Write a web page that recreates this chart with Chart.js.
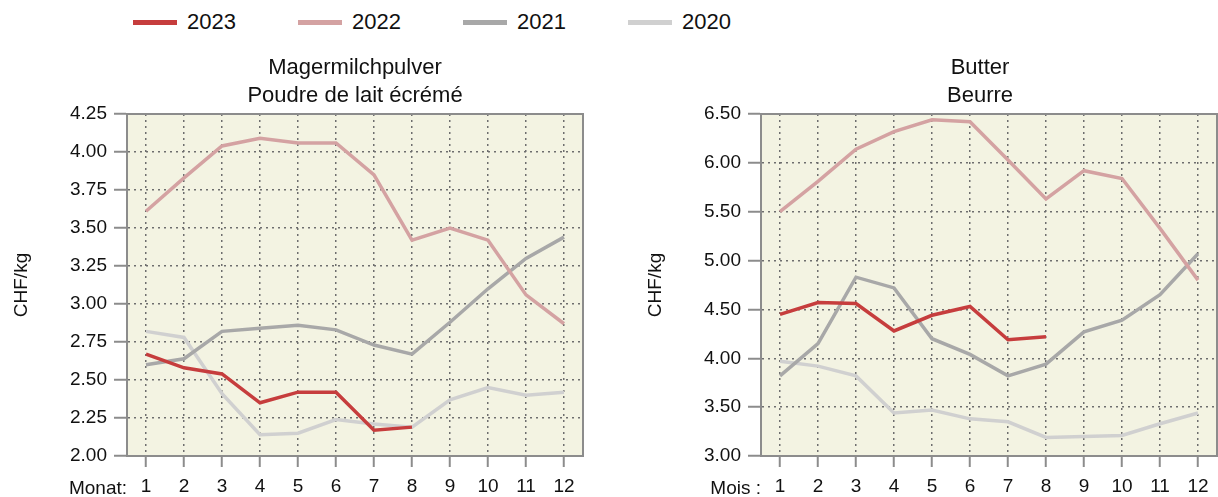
<!DOCTYPE html>
<html>
<head>
<meta charset="utf-8">
<script src="https://cdn.jsdelivr.net/npm/chart.js@4.4.0/dist/chart.umd.min.js"></script>
<style>
  body { margin: 0; width: 1218px; height: 497px; overflow: hidden; background: #fff; position: relative;
         font-family: 'Liberation Sans', Arial, sans-serif; color: #111; }
  .box { position: absolute; top: 0; width: 600px; height: 497px; }
  #legend { position: absolute; top: 0; left: 0; height: 45px; width: 800px; }
  .item { position: absolute; top: 0; height: 45px; }
  .swatch { position: absolute; top: 20px; left: 0; width: 44px; height: 5px; }
  .lbl { position: absolute; top: 7px; left: 54px; font-size: 22px; line-height: 30px; white-space: nowrap; }
</style>
</head>
<body>
<div id="legend"></div>
<div class="box" style="left:0px"><canvas id="chartMMP" width="600" height="497"></canvas></div>
<div class="box" style="left:634px"><canvas id="chartButter" width="600" height="497"></canvas></div>
<script>
// months 1..12
var months = ['1','2','3','4','5','6','7','8','9','10','11','12'];
var years = ['2023','2022','2021','2020'];
var yearColors = ['#c63d3d', '#d4a2a2', '#a8a8a8', '#d0d0d0'];

// Magermilchpulver / Poudre de lait écrémé, CHF/kg
var mmp2023 = [2.67, 2.58, 2.54, 2.35, 2.42, 2.42, 2.17, 2.19];
var mmp2022 = [3.61, 3.83, 4.04, 4.09, 4.06, 4.06, 3.85, 3.42, 3.50, 3.42, 3.06, 2.87];
var mmp2021 = [2.60, 2.64, 2.82, 2.84, 2.86, 2.83, 2.73, 2.67, 2.88, 3.10, 3.30, 3.44];
var mmp2020 = [2.82, 2.78, 2.41, 2.14, 2.15, 2.24, 2.21, 2.19, 2.37, 2.45, 2.40, 2.42];

// Butter / Beurre, CHF/kg
var butter2023 = [4.45, 4.57, 4.56, 4.28, 4.44, 4.53, 4.19, 4.22];
var butter2022 = [5.50, 5.81, 6.14, 6.32, 6.44, 6.42, 6.03, 5.63, 5.92, 5.84, 5.33, 4.80];
var butter2021 = [3.82, 4.15, 4.83, 4.72, 4.20, 4.04, 3.82, 3.94, 4.27, 4.39, 4.65, 5.07];
var butter2020 = [3.97, 3.92, 3.82, 3.44, 3.47, 3.38, 3.35, 3.19, 3.20, 3.21, 3.33, 3.44];

var FONT = "'Liberation Sans', Arial, sans-serif";
Chart.defaults.font.family = FONT;
Chart.defaults.color = '#111';

// legend (shared by both charts)
var legend = document.getElementById('legend');
years.forEach(function(y, i){
  var it = document.createElement('div');
  it.className = 'item';
  it.style.left = (133 + i * 165) + 'px';
  it.innerHTML = '<div class="swatch" style="background:' + yearColors[i] + '"></div><div class="lbl">' + y + '</div>';
  legend.appendChild(it);
});

// beige plot area, frame, titles and month label
var decor = {
  id: 'decor',
  beforeDraw: function(chart){
    var a = chart.chartArea, c = chart.ctx;
    c.save();
    c.fillStyle = '#f3f3e2';
    c.fillRect(a.left, a.top, a.right - a.left, a.bottom - a.top);
    c.restore();
  },
  beforeDatasetsDraw: function(chart){
    var a = chart.chartArea, c = chart.ctx;
    c.save();
    c.strokeStyle = '#8c8c8c';
    c.lineWidth = 2;
    c.setLineDash([]);
    c.strokeRect(a.left, a.top, a.right - a.left, a.bottom - a.top);
    c.restore();
  },
  afterDraw: function(chart, args, opts){
    var a = chart.chartArea, c = chart.ctx;
    c.save();
    c.fillStyle = '#111';
    c.font = '22px ' + FONT;
    c.textAlign = 'center';
    c.textBaseline = 'alphabetic';
    var cx = (a.left + a.right) / 2 + (opts.shift || 0);
    c.fillText(opts.lines[0], cx, 74);
    c.fillText(opts.lines[1], cx, 102);
    c.font = '19px ' + FONT;
    c.textAlign = 'right';
    c.textBaseline = 'middle';
    c.fillText(opts.monthLabel, a.left, 489);
    c.restore();
  }
};

function makeChart(id, s23, s22, s21, s20, yMin, yMax, step, lines, monthLabel, shift) {
  var series = [s23, s22, s21, s20];
  return new Chart(document.getElementById(id), {
    type: 'line',
    data: {
      labels: months,
      datasets: series.map(function(d, i){
        return {
          label: years[i],
          data: d,
          borderColor: yearColors[i],
          borderWidth: 3.5,
          pointRadius: 0,
          tension: 0,
          fill: false
        };
      })
    },
    plugins: [decor],
    options: {
      responsive: false,
      animation: false,
      devicePixelRatio: 1,
      layout: { padding: { left: 0, right: 17, top: 114, bottom: 0 } },
      plugins: {
        legend: { display: false },
        title: { display: false },
        tooltip: { enabled: false },
        decor: { lines: lines, monthLabel: monthLabel, shift: shift }
      },
      scales: {
        x: {
          offset: true,
          grid: {
            offset: false,
            color: '#6e6e6e',
            lineWidth: 1.5,
            tickLength: 11,
            tickColor: '#8c8c8c',
            tickWidth: 2,
            tickBorderDash: []
          },
          border: { display: true, color: '#8c8c8c', width: 2, dash: [2, 4] },
          ticks: { font: { size: 19 }, color: '#111', padding: 8, maxRotation: 0 },
          afterFit: function(scale){ scale.height = 41; }
        },
        y: {
          min: yMin,
          max: yMax,
          grid: {
            color: '#6e6e6e',
            lineWidth: 1.5,
            tickLength: 13,
            tickColor: '#8c8c8c',
            tickWidth: 2,
            tickBorderDash: []
          },
          border: { display: true, color: '#8c8c8c', width: 2, dash: [2, 4] },
          ticks: {
            stepSize: step,
            font: { size: 19 },
            color: '#111',
            padding: 7,
            callback: function(v){ return v.toFixed(2); }
          },
          title: { display: true, text: 'CHF/kg', font: { size: 19 }, color: '#111', padding: { top: 10, bottom: 0 } },
          afterFit: function(scale){ scale.width = 127; }
        }
      }
    }
  });
}

var chart1 = makeChart('chartMMP', mmp2023, mmp2022, mmp2021, mmp2020, 2, 4.25, 0.25,
  ['Magermilchpulver', 'Poudre de lait écrémé'], 'Monat:', 0);
var chart2 = makeChart('chartButter', butter2023, butter2022, butter2021, butter2020, 3, 6.5, 0.5,
  ['Butter', 'Beurre'], 'Mois :', -9);
</script>
</body>
</html>
